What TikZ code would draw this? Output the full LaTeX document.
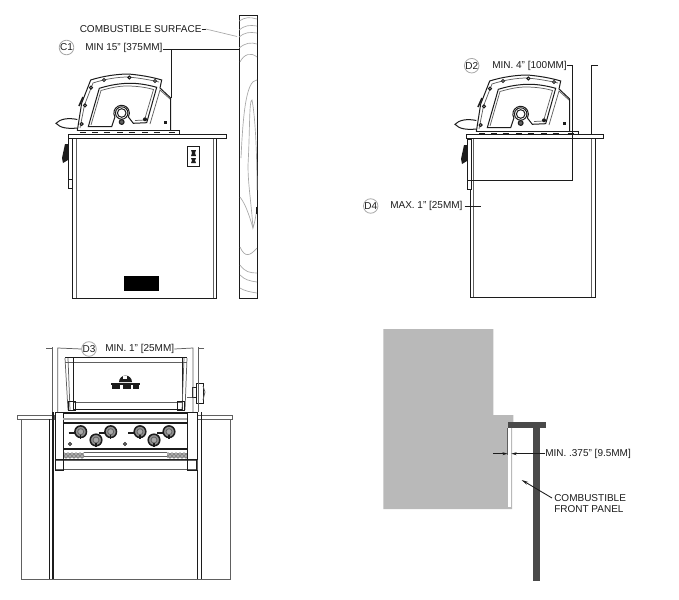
\documentclass[tikz,border=0pt]{standalone}
\usepackage{fontspec}
\setmainfont{Liberation Sans}
\usetikzlibrary{arrows.meta,patterns}
\definecolor{lg}{HTML}{A8A8A8}
\definecolor{mg}{HTML}{606060}
\definecolor{dk}{HTML}{1C1C1C}
\definecolor{panelgray}{HTML}{B9B9B9}
\definecolor{hatchc}{HTML}{4A4A4A}
\tikzset{
  x=0.75pt,y=-0.75pt,
  lab/.style={inner sep=0pt,font=\fontsize{7.5}{8.5}\selectfont,text=dk},
  tag/.style={circle,draw=lg,line width=0.6pt,inner sep=0pt,minimum size=8pt,font=\fontsize{7.5}{8.5}\selectfont,text=dk},
  thinl/.style={draw=mg,line width=0.55pt},
  midl/.style={draw=dk,line width=0.75pt},
  heavy/.style={draw=dk,line width=1.15pt},
  grain/.style={draw=lg,line width=0.5pt},
  dim/.style={draw=dk,line width=0.65pt},
  knob/.style={draw=dk,line width=0.8pt,fill=mg},
  sidegrill/.pic={
    % handle
    \draw[midl,fill=white] (77.3,119.5) .. controls (68,117.5) and (60,119) .. (56,123.3) .. controls (60,128) and (68,129) .. (77.3,128);
    % lid
    \draw[midl,fill=white] (77.3,130.7) -- (81.7,103) -- (90.7,80) .. controls (103,76) and (118,74) .. (128.3,74) .. controls (140,75) and (152,77) .. (161.7,80) -- (160,88) -- (170.7,98) -- (170.7,130.7);
    \draw[thinl] (80,128) -- (84.5,105) -- (93,83) .. controls (105,79) and (118,77) .. (128,77) .. controls (140,78) and (150,80) .. (159,82);
    \draw[midl] (88.3,126.7) -- (111.7,126.7) -- (114.9,117) arc[start angle=150,end angle=390,radius=7.8] -- (133.3,123.3) -- (146.7,122.7) -- (156.7,87.3) .. controls (145,84) and (135,83) .. (126.7,83.3) .. controls (115,84) and (107,86) .. (99.3,88.3) -- cycle;
    \draw[thinl] (91,125) -- (101,90.5) .. controls (110,88) and (118,86) .. (127,86) .. controls (135,86) and (145,87) .. (153.5,89.5) -- (144.5,120) -- (135,120.5);
    \draw[thinl] (170,99) -- (160,90) -- (150,124);
    \draw[midl,fill=white] (121.7,113) circle[radius=6.2];
    \draw[midl,fill=white] (121.7,113) circle[radius=4.3];
    \draw[knob] (121.7,122) circle[radius=2.4];
    \foreach \a/\b in {81.7/124,85/105.3,91/87.7,104/80,129.3/77.5,155/81}
      \draw[midl,fill=white] (\a,\b) circle[radius=1.5];
    \fill[dk] (145,119.3) circle[radius=2];
    \fill[dk] (164,121) rectangle (167,124);
    \draw[heavy] (79,106) -- (83,97);
    % base rail
    \draw[midl] (77,130.7) -- (179,130.7) -- (179,134);
    \foreach \a in {83.3,95,106.7,120,131.7,145,156.7,171.7}
      \draw[heavy] (\a-3,132.7) -- (\a+3,132.7);
    % side strip and knob
    \draw[midl,fill=white] (68,138) rectangle (72,188);
    \draw[midl] (68,179) -- (72,179);
    \fill[dk] (65,144) -- (68,144) -- (68,160) -- (63,163) -- (62,158) -- cycle;
  }
}
\begin{document}
\begin{tikzpicture}
\useasboundingbox (0,0) rectangle (679,600);
\fill[white] (0,0) rectangle (679,600);

% ===== Top-left view =====
\draw[midl] (72,138) rectangle (216,298);
\draw[thinl] (76,138) -- (76,298) (213,138) -- (213,298);
\draw[midl,fill=white] (68.3,134) rectangle (226,138);
\pic at (0,0) {sidegrill};
\draw[midl,fill=white] (187.7,146.7) rectangle (199.3,166);
\fill[dk] (191,150) -- (196,150) -- (195,153) -- (196,156) -- (191,156) -- (192,153) -- cycle;
\fill[dk] (191,158) -- (196,158) -- (195,160.5) -- (196,163) -- (191,163) -- (192,160.5) -- cycle;
\fill[black] (124,275.7) rectangle (159,290.7);
% wood board
\draw[midl] (239.3,15) rectangle (257,298.5);
\draw[grain] (239.3,21) .. controls (245,17) and (250,17) .. (257,19);
\draw[grain] (239.3,30) .. controls (245,25) and (250,25) .. (257,26);
\draw[grain] (239.3,37) .. controls (245,32) and (250,32) .. (257,33);
\draw[grain] (239.3,48) .. controls (245,43) and (251,42) .. (257,44);
\draw[grain] (240,62) .. controls (244,54) and (251,52) .. (257,57);
\draw[grain] (241,158) .. controls (243,115) and (246,80) .. (257,80);
\draw[grain] (248,165) .. controls (250,130) and (249,100) .. (252,100) .. controls (255,115) and (257,150) .. (257,190);
\draw[grain] (248,165) .. controls (248,185) and (251,200) .. (253,228) .. controls (255,222) and (256,215) .. (257,207);
\draw[grain] (240,197) .. controls (246,205) and (249,215) .. (253,228);
\draw[grain] (240,247) .. controls (245,258) and (250,256) .. (257,248);
\draw[grain] (240,265) .. controls (245,272) and (250,273) .. (257,273);
\draw[grain] (240,275) .. controls (245,280) and (250,281) .. (257,282);
\draw[grain] (240,288) .. controls (245,291) and (250,292) .. (257,293);
\draw[midl,line width=1.2pt] (257,207) -- (257,214) (239.3,183) -- (239.3,189);
% labels
\node[lab,anchor=west] (combsurf) at (79.5,29) {COMBUSTIBLE SURFACE};
\node[tag] (c1) at (66.5,47.5) {C1};
\node[lab,anchor=west] (minc) at (85,48) {MIN 15" [375MM]};
\coordinate (woodA) at (237,36.5);
\coordinate (woodB) at (239.3,49.5);
\coordinate (c1foot) at (171,98);
\coordinate (c1top) at (171,49.5);
\draw[dk,line width=0.5pt] (combsurf.east) -- ++(4,0);
\draw[grain] ([xshift=3pt]combsurf.east) -- (woodA);
\draw[dim] (minc.east) ++(0,1.5) -- (woodB);
\draw[dim] (c1top) -- (c1foot);

% ===== Top-right view =====
\draw[midl] (470,138) -- (470,297) -- (595,297) -- (595,138);
\draw[thinl] (473.7,138) -- (473.7,297) (591.7,138) -- (591.7,297);
\draw[midl,fill=white] (466.7,134) rectangle (603.3,138);
\pic at (399,1) {sidegrill};
\node[tag] (d2) at (471.7,65.7) {D2};
\node[lab,anchor=west] (mind2) at (492,65.5) {MIN. 4" [100MM]};
\node[tag] (d4) at (370.7,206) {D4};
\node[lab,anchor=west] (mind4) at (390,206) {MAX. 1" [25MM]};
\coordinate (d2corner) at (572.7,65.5);
\coordinate (d2low) at (572.7,180.7);
\coordinate (d2left) at (468.5,180.7);
\coordinate (edgeTop) at (591,65.5);
\coordinate (edgeTick) at (598,65.5);
\coordinate (edgeLow) at (591,134);
\coordinate (d4a) at (464.5,206.7);
\coordinate (d4b) at (481,206.7);
\draw[dim] (mind2.east) -- (d2corner) -- (d2low);
\draw[heavy] (d2low) -- (d2left);
\draw[midl] (572.7,138) -- (d2low);
\draw[dim] (edgeTick) -- (edgeTop) -- (edgeLow);
\draw[dim] (d4a) -- (d4b);

% ===== Bottom-left view =====
\draw[thinl] (21,419) -- (21,579) -- (230,579) -- (230,419);
\draw[thinl] (17,415) rectangle (54,419);
\draw[thinl] (197,415) rectangle (232,419);
\draw[heavy] (49.5,419) -- (49.5,579) (197.5,419) -- (197.5,579);
\draw[heavy] (53.2,412) -- (53.2,579) (201.7,412) -- (201.7,579);
% lid front
\draw[midl] (65,357) -- (187,357);
\draw[thinl] (65,362) -- (187,362) (73,402) -- (182,402);
\draw[midl] (73,357) -- (73,410) (182,357) -- (182,410);
\draw[thinl] (65,358) -- (68,410) (68,358) -- (70,410) (187,358) -- (185,410) (184,358) -- (182,410);
\draw[midl] (68,401) rectangle (75,410);
\draw[midl] (177,401) rectangle (184,410);
\draw[heavy] (73,409.5) -- (182,409.5);
% logo
\fill[dk] (119,382) arc[start angle=180,end angle=360,radius=6.5] -- cycle;
\fill[white] (123,376) rectangle (127,379);
\fill[dk] (111,382.5) rectangle (140,385);
\fill[dk] (112,385) rectangle (120,388.5);
\fill[dk] (123,385) rectangle (131,388.5);
\fill[dk] (133,385) rectangle (139,388.5);
% side burner
\draw[thinl] (187,397) -- (192,397);
\draw[midl,fill=white] (192,387) rectangle (196,397);
\draw[midl,fill=white] (196,383) rectangle (203,403);
\draw[thinl] (203,386) -- (205,392) -- (203,400);
% console
\draw[midl,fill=white] (55,412) rectangle (197,460);
\draw[midl] (63,412) -- (63,470) (187,412) -- (187,470);
\draw[heavy] (63,413) -- (187,413);
\draw[heavy] (63,423) -- (187,423);
\draw[lg,line width=1pt] (63,419) -- (187,419);
\foreach \a/\b in {80.7/431.7,110.7/431.7,96/440,140/431.7,169/431.7,154/440}{
  \draw[heavy,fill=mg!70] (\a,\b) circle[radius=5.8];
  \draw[thinl,fill=lg] (\a,\b) circle[radius=3];
  \draw[heavy] (\a,\b+3) -- (\a,\b+7);
}
\foreach \a in {80.7,140,110.7,169} \draw[heavy] (\a-12,433) -- (\a-6,433);
\draw[midl,fill=white] (70,444) circle[radius=1.5];
\draw[midl,fill=white] (125,444) circle[radius=1.5];
\draw[heavy] (63,449) -- (187,449);
\fill[lg] (64,452.7) rectangle (84,458);
\fill[lg] (167,452.7) rectangle (187,458);
\fill[pattern=crosshatch dots,pattern color=dk] (64,452.7) rectangle (84,458);
\fill[pattern=crosshatch dots,pattern color=dk] (167,452.7) rectangle (187,458);
\draw[thinl] (84,452) -- (167,452) (84,456) -- (167,456);
\draw[line width=1.6pt,dk] (55,460) -- (197,460);
\draw[thinl,fill=white] (55,460) rectangle (197,469.3);
\draw[midl] (55,460) -- (55,470) -- (63,470) -- (63,460) (187,460) -- (187,470) -- (196,470) -- (196,460);
% D3 dimension
\node[tag] (d3) at (89,349) {D3};
\node[lab,anchor=west] (mind3) at (105,349) {MIN. 1" [25MM]};
\coordinate (d3a) at (57.7,348);
\coordinate (d3b) at (193,348);
\coordinate (d3al) at (57.7,412);
\coordinate (d3bl) at (193,412);
\coordinate (d3c) at (52.7,347);
\coordinate (d3d) at (198,347);
\coordinate (d3cl) at (52.7,412);
\coordinate (d3dl) at (198,412);
\coordinate (d3ct) at (46,348);
\coordinate (d3dt) at (204,348);
\draw[thinl] (d3.west) -- (d3a) -- (d3al);
\draw[thinl] (mind3.east) -- (d3b) -- (d3bl);
\draw[thinl] (d3ct) -- (52.7,348) (d3c) -- (d3cl);
\draw[thinl] (d3dt) -- (198,348) (d3d) -- (d3dl);

% ===== Bottom-right detail =====
\fill[panelgray] (383.3,329) -- (493.3,329) -- (493.3,415) -- (513.3,415) -- (513.3,422) -- (512,422) -- (512,509) -- (383.3,509) -- cycle;
\fill[white] (507.5,428) rectangle (511,507);
\draw[mg,line width=0.7pt] (507.7,428) -- (507.7,455);
\fill[hatchc] (507.7,421.7) rectangle (545.7,427.7);
\fill[hatchc] (533.3,427.7) rectangle (540,580.7);
\node[lab,anchor=west] (mind5) at (545,453.7) {MIN. .375" [9.5MM]};
\node[lab,anchor=west,align=left] (panel) at (554,503.5) {COMBUSTIBLE\\[0.2pt]FRONT PANEL};
\coordinate (arrL0) at (493,453.7);
\coordinate (arrL1) at (507.7,453.7);
\coordinate (arrR) at (511.3,453.7);
\coordinate (panelTip) at (521.7,480);
\draw[dim,-{Stealth[length=4pt,width=2.2pt]}] (arrL0) -- (arrL1);
\draw[dim,-{Stealth[length=4pt,width=2.2pt]}] (mind5.west) -- (arrR);
\draw[dim,-{Stealth[length=5pt,width=2.4pt]}] (panel.west) ++(-2,-5.5) -- (panelTip);
\end{tikzpicture}
\end{document}
